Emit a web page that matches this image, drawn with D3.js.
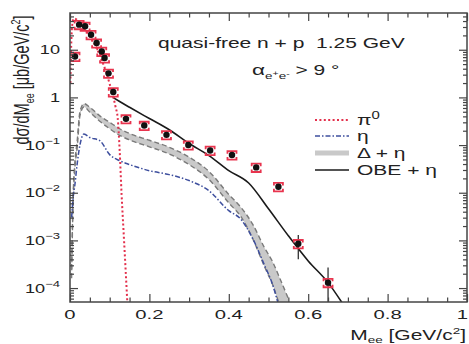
<!DOCTYPE html>
<html>
<head>
<meta charset="utf-8">
<script src="https://cdn.jsdelivr.net/npm/d3@7"></script>
<style>
  body { margin: 0; background: #fff; }
  svg { display: block; }
  text { font-family: "Liberation Sans", Arial, sans-serif; fill: #222; white-space: pre; }
</style>
</head>
<body>
<div id="chart"></div>
<script>

// ----------------------------------------
// DATA
// ----------------------------------------
const pointMass = [0.0126, 0.023, 0.038, 0.053, 0.067, 0.080, 0.087, 0.097, 0.109,
                   0.141, 0.187, 0.243, 0.298, 0.353, 0.408, 0.469, 0.525, 0.575, 0.650];
const pointXsec = [7.2, 33.6, 31, 20.7, 13.8, 9.2, 6.7, 3.2, 1.3,
                   0.355, 0.257, 0.164, 0.100, 0.077, 0.062, 0.034, 0.0134, 8.5e-4, 1.3e-4];
const pointStat = [0.3, 1.0, 0.9, 0.6, 0.4, 0.3, 0.2, 0.1, 0.05,
                   0.012, 0.009, 0.006, 0.004, 0.003, 0.003, 0.002, 0.0012, 4.5e-4, 1.4e-4];
const pointSys  = [0.2, 0.2, 0.2, 0.2, 0.2, 0.2, 0.2, 0.2, 0.2,
                   0.2, 0.2, 0.2, 0.2, 0.2, 0.2, 0.2, 0.2, 0.2, 0.2];

const pi0Mass = [0.001, 0.003, 0.006, 0.010, 0.015, 0.020, 0.030, 0.040, 0.050, 0.060,
                 0.070, 0.080, 0.090, 0.100, 0.110, 0.115, 0.120, 0.125, 0.130, 0.135, 0.140, 0.145];
const pi0Xsec = [2, 12, 35, 45, 44, 40, 32, 25, 19, 14,
                 9.5, 6, 3.6, 1.9, 0.95, 0.62, 0.38, 0.08, 9e-3, 1.5e-3, 2.5e-4, 4e-5];

const etaMass = [0.004, 0.008, 0.012, 0.018, 0.025, 0.035, 0.050, 0.075, 0.100, 0.125, 0.150,
                 0.200, 0.250, 0.300, 0.350, 0.400, 0.430, 0.460, 0.490, 0.510, 0.525];
const etaXsec = [3e-3, 8e-3, 0.014, 0.04, 0.10, 0.17, 0.144, 0.124, 0.063, 0.047, 0.039,
                 0.029, 0.024, 0.018, 0.011, 4.2e-3, 2.8e-3, 1.1e-3, 3e-4, 1.2e-4, 4.5e-5];

const deltaMass = [0.004, 0.008, 0.012, 0.018, 0.025, 0.035, 0.050, 0.075, 0.100, 0.125, 0.150,
                   0.200, 0.250, 0.300, 0.350, 0.400, 0.430, 0.460, 0.490, 0.510, 0.530, 0.550];
const deltaHigh = [2.5e-4, 9e-3, 0.04, 0.12, 0.50, 0.74, 0.62, 0.41, 0.30, 0.22, 0.175,
                   0.126, 0.090, 0.056, 0.028, 9.2e-3, 5e-3, 2.2e-3, 7e-4, 3.6e-4, 1.5e-4, 6e-5];
const deltaLow  = [1.6e-4, 7e-3, 0.03, 0.085, 0.41, 0.63, 0.49, 0.315, 0.22, 0.16, 0.128,
                   0.092, 0.065, 0.039, 0.019, 6.1e-3, 3.2e-3, 1.1e-3, 2.8e-4, 1.2e-4, 4e-5, 1.5e-5];

const obeMass = [0.108, 0.125, 0.150, 0.200, 0.250, 0.300, 0.350, 0.400, 0.450,
                 0.500, 0.550, 0.600, 0.650, 0.690];
const obeXsec = [1.0, 0.82, 0.62, 0.36, 0.21, 0.108, 0.06, 0.029, 0.016,
                 4.6e-3, 1.25e-3, 3.7e-4, 1.3e-4, 4.3e-5];

const xMajorTicks = [0, 0.2, 0.4, 0.6, 0.8, 1];
const xTickLabels = ["0", "0.2", "0.4", "0.6", "0.8", "1"];
const yMajorTicks = [1e-4, 1e-3, 1e-2, 1e-1, 1, 10];
const yTickBase   = ["10", "10", "10", "10", "1", "10"];
const yTickExp    = ["\u22124", "\u22123", "\u22122", "\u22121", "", ""];

const legendLabels = ["\u03c0", "\u03b7", "\u0394 + \u03b7", "OBE + \u03b7"];

const yMin = 5.1e-5, yMax = 59;


// ----------------------------------------
// SETUP
// ----------------------------------------
const width = 469, height = 344;
const frame = { left: 70, right: 467, top: 13, bottom: 302 };
const sx = 1.5; // horizontal stretch of the original lettering

const svg = d3.select("#chart")
  .append("svg")
  .attr("width", width)
  .attr("height", height);

const x = d3.scaleLinear().domain([0, 1]).range([frame.left, frame.right]);
const y = d3.scaleLog().domain([yMin, yMax]).range([frame.bottom, frame.top]);

svg.append("clipPath").attr("id", "plot-clip")
  .append("rect")
  .attr("x", frame.left).attr("y", frame.top)
  .attr("width", frame.right - frame.left)
  .attr("height", frame.bottom - frame.top);

const plot = svg.append("g").attr("clip-path", "url(#plot-clip)");

const zip = (ms, vs) => ms.map((m, i) => ({ m, v: vs[i] }));

const line = d3.line()
  .x(d => x(d.m))
  .y(d => y(d.v))
  .curve(d3.curveMonotoneX);


// ----------------------------------------
// MODEL CURVES
// ----------------------------------------
const deltaBand = deltaMass.map((m, i) => ({ m, lo: deltaLow[i], hi: deltaHigh[i] }));

plot.append("path")
  .datum(deltaBand)
  .attr("fill", "#c9c9c9")
  .attr("d", d3.area()
    .x(d => x(d.m))
    .y0(d => y(d.lo))
    .y1(d => y(d.hi))
    .curve(d3.curveMonotoneX));

[deltaHigh, deltaLow].forEach(vals => {
  plot.append("path")
    .datum(zip(deltaMass, vals))
    .attr("fill", "none")
    .attr("stroke", "#7a7a7a")
    .attr("stroke-width", 1.4)
    .attr("stroke-dasharray", "5,3")
    .attr("d", line);
});

plot.append("path")
  .datum(zip(etaMass, etaXsec))
  .attr("fill", "none")
  .attr("stroke", "#3e4f9e")
  .attr("stroke-width", 1.5)
  .attr("stroke-dasharray", "5,2,1.5,2")
  .attr("d", line);

plot.append("path")
  .datum(zip(obeMass, obeXsec))
  .attr("fill", "none")
  .attr("stroke", "#1a1a1a")
  .attr("stroke-width", 1.6)
  .attr("d", line);

plot.append("path")
  .datum(zip(pi0Mass, pi0Xsec))
  .attr("fill", "none")
  .attr("stroke", "#e3304c")
  .attr("stroke-width", 2)
  .attr("stroke-dasharray", "2,2.4")
  .attr("d", line);


// ----------------------------------------
// DATA POINTS
// ----------------------------------------
const points = pointMass.map((m, i) => ({
  m, v: pointXsec[i], stat: pointStat[i], sys: pointSys[i]
}));

plot.selectAll(".stat-bar")
  .data(points)
  .join("line")
  .attr("class", "stat-bar")
  .attr("x1", d => x(d.m)).attr("x2", d => x(d.m))
  .attr("y1", d => y(d.v + d.stat))
  .attr("y2", d => y(Math.max(d.v - d.stat, yMin * 0.5)))
  .attr("stroke", "#222")
  .attr("stroke-width", 1.2);

plot.selectAll(".sys-bracket")
  .data(points)
  .join("path")
  .attr("class", "sys-bracket")
  .attr("fill", "none")
  .attr("stroke", "#e8344e")
  .attr("stroke-width", 1.8)
  .attr("d", d => {
    const px = x(d.m), yt = y(d.v * (1 + d.sys)), yb = y(d.v * (1 - d.sys));
    return `M${px - 4.5},${yt + 2.5}V${yt}H${px + 4.5}V${yt + 2.5}` +
           `M${px - 4.5},${yb - 2.5}V${yb}H${px + 4.5}V${yb - 2.5}`;
  });

plot.selectAll(".pt")
  .data(points)
  .join("circle")
  .attr("class", "pt")
  .attr("cx", d => x(d.m))
  .attr("cy", d => y(d.v))
  .attr("r", 3.2)
  .attr("fill", "#111");


// ----------------------------------------
// FRAME + TICKS (inward, all four sides)
// ----------------------------------------
const xMinor = d3.range(0.05, 1, 0.05).filter(v => Math.abs(v * 5 - Math.round(v * 5)) > 1e-6);
const yMinor = [];
for (let e = -5; e <= 1; e++) {
  for (let k = 2; k <= 9; k++) {
    const v = k * Math.pow(10, e);
    if (v > yMin && v < yMax) yMinor.push(v);
  }
}

function styleAxis(g) {
  g.select(".domain").remove();
  g.selectAll(".tick line").attr("stroke", "#444").attr("stroke-width", 1.2);
}

const axes = [
  [d3.axisBottom(x).tickValues(xMajorTicks).tickSize(-8), `translate(0,${frame.bottom})`],
  [d3.axisBottom(x).tickValues(xMinor).tickSize(-4.5), `translate(0,${frame.bottom})`],
  [d3.axisTop(x).tickValues(xMajorTicks).tickSize(-8), `translate(0,${frame.top})`],
  [d3.axisTop(x).tickValues(xMinor).tickSize(-4.5), `translate(0,${frame.top})`],
  [d3.axisLeft(y).tickValues(yMajorTicks).tickSize(-8), `translate(${frame.left},0)`],
  [d3.axisLeft(y).tickValues(yMinor).tickSize(-4), `translate(${frame.left},0)`],
  [d3.axisRight(y).tickValues(yMajorTicks).tickSize(-8), `translate(${frame.right},0)`],
  [d3.axisRight(y).tickValues(yMinor).tickSize(-4), `translate(${frame.right},0)`]
];
axes.forEach(([ax, tr]) => {
  svg.append("g")
    .attr("transform", tr)
    .call(ax.tickFormat(""))
    .call(styleAxis);
});

svg.append("rect")
  .attr("x", frame.left).attr("y", frame.top)
  .attr("width", frame.right - frame.left)
  .attr("height", frame.bottom - frame.top)
  .attr("fill", "none")
  .attr("stroke", "#444")
  .attr("stroke-width", 1.5);


// ----------------------------------------
// TICK LABELS
// ----------------------------------------
const lastX = xMajorTicks.length - 1;
svg.selectAll(".xlab")
  .data(xMajorTicks)
  .join("text")
  .attr("class", "xlab")
  .attr("transform", (d, i) => i === lastX
    ? `translate(${width - 1},319) scale(${sx},1)`
    : `translate(${x(d)},319) scale(${sx},1)`)
  .attr("text-anchor", (d, i) => i === lastX ? "end" : "middle")
  .style("font-size", "13.5px")
  .text((d, i) => xTickLabels[i]);

svg.selectAll(".ylab")
  .data(yMajorTicks)
  .join("text")
  .attr("class", "ylab")
  .attr("transform", d => `translate(60,${y(d) + 4.5}) scale(1.45,1)`)
  .attr("text-anchor", "end")
  .style("font-size", "12.5px")
  .each(function (d, i) {
    const t = d3.select(this);
    t.append("tspan").text(yTickBase[i]);
    if (yTickExp[i]) {
      t.append("tspan").attr("dy", -6).style("font-size", "9px").text(yTickExp[i]);
    }
  });


// ----------------------------------------
// AXIS TITLES
// ----------------------------------------
const xTitle = svg.append("text")
  .attr("transform", `translate(466,340) scale(${sx},1)`)
  .attr("text-anchor", "end")
  .style("font-size", "14px");
xTitle.append("tspan").text("M");
xTitle.append("tspan").attr("dy", 3).style("font-size", "9px").text("ee");
xTitle.append("tspan").attr("dy", -3).text(" [GeV/c");
xTitle.append("tspan").attr("dy", -6).style("font-size", "9px").text("2");
xTitle.append("tspan").attr("dy", 6).text("]");

const yTitle = svg.append("text")
  .attr("transform", "translate(29,80) rotate(-90) scale(1,1.5)")
  .attr("text-anchor", "middle")
  .style("font-size", "14.5px");
yTitle.append("tspan").text("d\u03c3/dM");
yTitle.append("tspan").attr("dy", 3).style("font-size", "9px").text("ee");
yTitle.append("tspan").attr("dy", -3).text(" [\u03bcb/GeV/c");
yTitle.append("tspan").attr("dy", -6).style("font-size", "9px").text("2");
yTitle.append("tspan").attr("dy", 6).text("]");


// ----------------------------------------
// ANNOTATIONS
// ----------------------------------------
svg.append("text")
  .attr("transform", `translate(158,48) scale(${sx},1)`)
  .style("font-size", "14px")
  .text("quasi-free n + p  1.25 GeV");

const cut = svg.append("text")
  .attr("transform", `translate(252,75) scale(${sx},1)`)
  .style("font-size", "14px");
cut.append("tspan").style("font-size", "15px").text("\u03b1");
cut.append("tspan").attr("dy", 4).style("font-size", "9px").text("e");
cut.append("tspan").attr("dy", -3).style("font-size", "7px").text("+");
cut.append("tspan").attr("dy", 3).style("font-size", "9px").text("e");
cut.append("tspan").attr("dy", -3).style("font-size", "7px").text("-");
cut.append("tspan").attr("dy", -1).text(" > 9 \u00b0");


// ----------------------------------------
// LEGEND
// ----------------------------------------
const legendY = [120, 136, 153, 170];
const legendStyles = [
  { stroke: "#e3304c", width: 2, dash: "2,2.4" },
  { stroke: "#3e4f9e", width: 1.5, dash: "5,2,1.5,2" },
  { stroke: "#c9c9c9", width: 5, dash: null },
  { stroke: "#1a1a1a", width: 1.6, dash: null }
];

legendLabels.forEach((lab, i) => {
  const s = legendStyles[i];
  svg.append("line")
    .attr("x1", 315).attr("x2", 349)
    .attr("y1", legendY[i]).attr("y2", legendY[i])
    .attr("stroke", s.stroke)
    .attr("stroke-width", s.width)
    .attr("stroke-dasharray", s.dash);

  const t = svg.append("text")
    .attr("transform", `translate(357,${legendY[i] + 5}) scale(${sx},1)`)
    .style("font-size", "14px");
  t.append("tspan").text(lab);
  if (i === 0) t.append("tspan").attr("dy", -6).style("font-size", "10px").text("0");
});

</script>
</body>
</html>
